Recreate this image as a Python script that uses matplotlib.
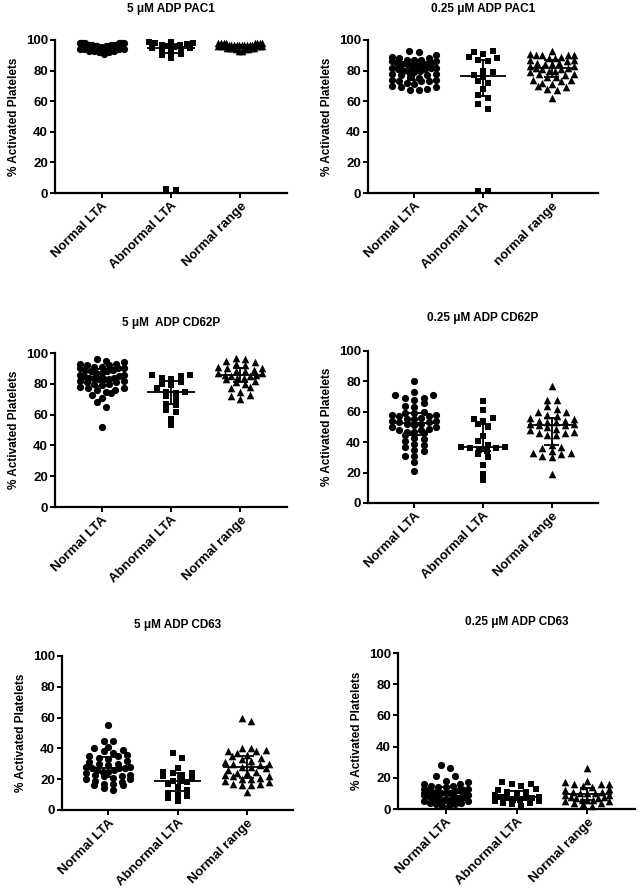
import numpy as np
import matplotlib
matplotlib.use("Agg")
import matplotlib.pyplot as plt

plt.rcParams['font.family'] = ['Liberation Sans', 'DejaVu Sans']
plt.rcParams['font.weight'] = 'bold'

# ---------------- data ----------------
categories = ["Normal LTA", "Abnormal LTA", "Normal range"]
categories_alt = ["Normal LTA", "Abnormal LTA", "normal range"]
titles = ["5 \u03bcM ADP PAC1", "0.25 \u03bcM ADP PAC1",
          "5 \u03bcM  ADP CD62P", "0.25 \u03bcM ADP CD62P",
          "5 \u03bcM ADP CD63", "0.25 \u03bcM ADP CD63"]
y_label = "% Activated Platelets"
y_ticks = [0, 20, 40, 60, 80, 100]

pac1_5_normal = [98, 98, 98, 98, 98, 98, 98, 98, 98, 98, 97, 97, 97, 97, 97, 97, 97, 97,
                 97, 97, 97, 97, 96, 96, 96, 96, 96, 96, 96, 96, 95, 95, 95, 95, 95, 95,
                 94, 94, 94, 94, 93, 93, 93, 92, 92, 91]
pac1_5_abnormal = [99, 98.5, 98, 98, 97.5, 97, 96.5, 96, 95.5, 95, 94.5, 94, 93, 92, 91,
                   90, 88, 2.5, 2.0]
pac1_5_range = [98, 98, 98, 98, 98, 98, 98, 98, 97, 97, 97, 97, 97, 97, 97, 97, 97, 97,
                96, 96, 96, 96, 96, 96, 95, 95, 95, 95, 95, 94, 94, 94, 93, 93]

pac1_025_normal = [93, 92, 90, 89, 88, 88, 87, 87, 87, 86, 86, 85, 85, 84, 84, 84, 83, 83,
                   83, 82, 82, 82, 81, 81, 80, 80, 79, 79, 78, 78, 77, 77, 76, 75, 74, 74,
                   73, 73, 73, 72, 71, 70, 69, 69, 68, 67, 67]
pac1_025_abnormal = [93, 92, 91, 89, 88, 87, 86, 80, 79, 77, 76, 73, 72, 68, 64, 62, 58, 55,
                     1.5, 1.0]
pac1_025_range = [93, 91, 90, 90, 90, 90, 89, 88, 88, 87, 87, 86, 85, 85, 84, 84, 83, 83,
                  82, 82, 81, 81, 80, 80, 79, 78, 78, 77, 76, 76, 74, 74, 73, 72, 71, 70,
                  69, 68, 67, 62]

cd62_5_normal = [96, 95, 94, 93, 93, 92, 92, 91, 91, 90, 90, 90, 89, 89, 88, 88, 87, 87,
                 86, 86, 85, 85, 84, 84, 84, 83, 83, 83, 82, 82, 81, 81, 80, 80, 79, 78,
                 77, 77, 76, 76, 75, 74, 73, 71, 68, 65, 52]
cd62_5_abnormal = [86, 86, 85, 84, 83, 81, 80, 79, 77, 75, 75, 74, 72, 70, 67, 66, 63, 62,
                   57, 53]
cd62_5_range = [97, 96, 95, 94, 93, 92, 91, 90, 90, 89, 88, 88, 87, 87, 86, 86, 85, 85,
                84, 84, 83, 82, 81, 80, 78, 77, 75, 73, 72, 70]

cd62_025_normal = [80, 73, 71, 71, 69, 69, 68, 66, 64, 63, 60, 59, 59, 58, 58, 57, 57, 56,
                   55, 55, 54, 54, 53, 53, 52, 52, 51, 50, 50, 49, 48, 48, 47, 47, 46, 45,
                   43, 42, 41, 39, 38, 37, 35, 34, 31, 31, 27, 21]
cd62_025_abnormal = [67, 61, 56, 55, 54, 52, 50, 44, 41, 38, 37, 37, 36, 36, 35, 34, 32, 30,
                     25, 19, 15]
cd62_025_range = [77, 68, 68, 64, 62, 60, 60, 58, 57, 56, 55, 54, 54, 53, 53, 52, 52, 51,
                  51, 50, 49, 48, 47, 46, 46, 45, 45, 38, 37, 36, 34, 33, 33, 32, 31, 30, 19]

cd63_5_normal = [55, 45, 45, 41, 40, 39, 38, 37, 36, 35, 35, 34, 33, 32, 31, 30, 30, 29,
                 28, 28, 27, 27, 27, 26, 26, 25, 25, 24, 23, 23, 22, 22, 21, 20, 20, 19,
                 18, 17, 17, 16, 16, 14, 13]
cd63_5_abnormal = [37, 34, 27, 25, 24, 24, 23, 22, 20, 19, 19, 18, 17, 15, 13, 11, 10, 9, 8, 6]
cd63_5_range = [60, 58, 40, 40, 39, 38, 38, 37, 36, 35, 34, 33, 32, 31, 30, 30, 29, 28, 28,
                27, 26, 25, 24, 24, 23, 22, 22, 21, 20, 20, 19, 18, 17, 17, 16, 16, 12]

cd63_025_normal = [28, 26, 21, 21, 18, 17, 16, 16, 15, 15, 14, 14, 13, 13, 12, 12, 12, 11,
                   11, 11, 10, 10, 10, 9, 9, 9, 8, 8, 8, 7, 7, 7, 7, 6, 6, 6, 6, 5, 5, 4,
                   4, 3, 3, 2, 2]
cd63_025_abnormal = [17, 16, 16, 15, 13, 12, 11, 11, 10, 9, 8, 8, 7, 7, 7, 6, 6, 5, 5, 4, 4,
                     3, 2]
cd63_025_range = [26, 18, 17, 16, 16, 16, 15, 14, 13, 12, 11, 11, 10, 10, 10, 9, 9, 8, 8, 7,
                  7, 6, 6, 6, 5, 5, 4, 4, 3, 2]

panels = [
    (pac1_5_normal, pac1_5_abnormal, pac1_5_range),
    (pac1_025_normal, pac1_025_abnormal, pac1_025_range),
    (cd62_5_normal, cd62_5_abnormal, cd62_5_range),
    (cd62_025_normal, cd62_025_abnormal, cd62_025_range),
    (cd63_5_normal, cd63_5_abnormal, cd63_5_range),
    (cd63_025_normal, cd63_025_abnormal, cd63_025_range),
]
panel_cats = [categories, categories_alt, categories, categories, categories, categories]

# ---------------- layout (pixels) ----------------
W, H = 640, 894
# left, right, top, bottom of axes; title centre y
boxes = [(55, 287, 40, 193, 9), (368, 598, 40, 193, 9),
         (55, 287, 353, 507, 323), (368, 598, 351, 503, 318),
         (62, 293, 656, 810, 625), (398, 635, 653, 809, 622)]
markers = ['o', 's', '^']
msizes = [27, 25, 30]

fig = plt.figure(figsize=(W / 100, H / 100), dpi=100)
XMIN, XMAX = -0.67, 2.67


def row_layout(vals, ppy, binpx, d, max_off):
    """Prism-like column scatter: group close values into rows, centre each row."""
    vals = np.asarray(vals, float)
    order = np.argsort(vals)
    offs = np.zeros(len(vals))
    rows = []
    cur = []
    start = None
    for i in order:
        y = vals[i] * ppy
        if start is None or y - start > binpx:
            if cur:
                rows.append(cur)
            cur = [i]
            start = y
        else:
            cur.append(i)
    if cur:
        rows.append(cur)
    for row in rows:
        n = len(row)
        if n == 1:
            continue
        sp = min(d, 2 * max_off / (n - 1))
        pos = (np.arange(n) - (n - 1) / 2) * sp
        idx = sorted(row, key=lambda k: vals[k])
        left, right = [], []
        for j, k in enumerate(idx):
            (left if j % 2 else right).append(k)
        arranged = left[::-1] + right
        for p, k in zip(pos, arranged):
            offs[k] = p
    return offs


for p, (groups, cats, box, title) in enumerate(zip(panels, panel_cats, boxes, titles)):
    l, r, t, b, ty = box
    ax = fig.add_axes([l / W, 1 - b / H, (r - l) / W, (b - t) / H])
    ax.set_xlim(XMIN, XMAX)
    ax.set_ylim(0, 100)
    ppx = (r - l) / (XMAX - XMIN)
    ppy = (b - t) / 100.0
    for gi, vals in enumerate(groups):
        offs = row_layout(vals, ppy, 5.0, 9.5, 22) / ppx
        ax.scatter(gi + offs, vals, marker=markers[gi], s=msizes[gi], color='black',
                   linewidths=0, clip_on=False, zorder=3)
        med = np.median(vals)
        q1, q3 = np.percentile(vals, [25, 75])
        ax.plot([gi - 0.34, gi + 0.34], [med, med], color='black', lw=1.3, zorder=4,
                solid_capstyle='butt')
        ax.plot([gi, gi], [q1, q3], color='black', lw=1.3, zorder=4)
        for q in (q1, q3):
            ax.plot([gi - 0.11, gi + 0.11], [q, q], color='black', lw=1.3, zorder=4,
                    solid_capstyle='butt')
    ax.set_xticks([0, 1, 2])
    ax.set_xticklabels(cats, rotation=45, ha='right', rotation_mode='anchor',
                       fontsize=9.5, fontweight='bold')
    ax.set_yticks(y_ticks)
    ax.set_yticklabels([str(v) for v in y_ticks], fontsize=9.5, fontweight='bold')
    ax.set_ylabel(y_label, fontsize=8.5, fontweight='bold', labelpad=4)
    for s in ('top', 'right'):
        ax.spines[s].set_visible(False)
    for s in ('left', 'bottom'):
        ax.spines[s].set_linewidth(1.6)
    ax.tick_params(axis='both', direction='out', length=3.5, width=1.4, pad=1.5)
    fig.text((l + r) / 2 / W, 1 - ty / H, title, ha='center', va='center',
             fontsize=8.5, fontweight='bold')

fig.savefig("out.png", dpi=100)
